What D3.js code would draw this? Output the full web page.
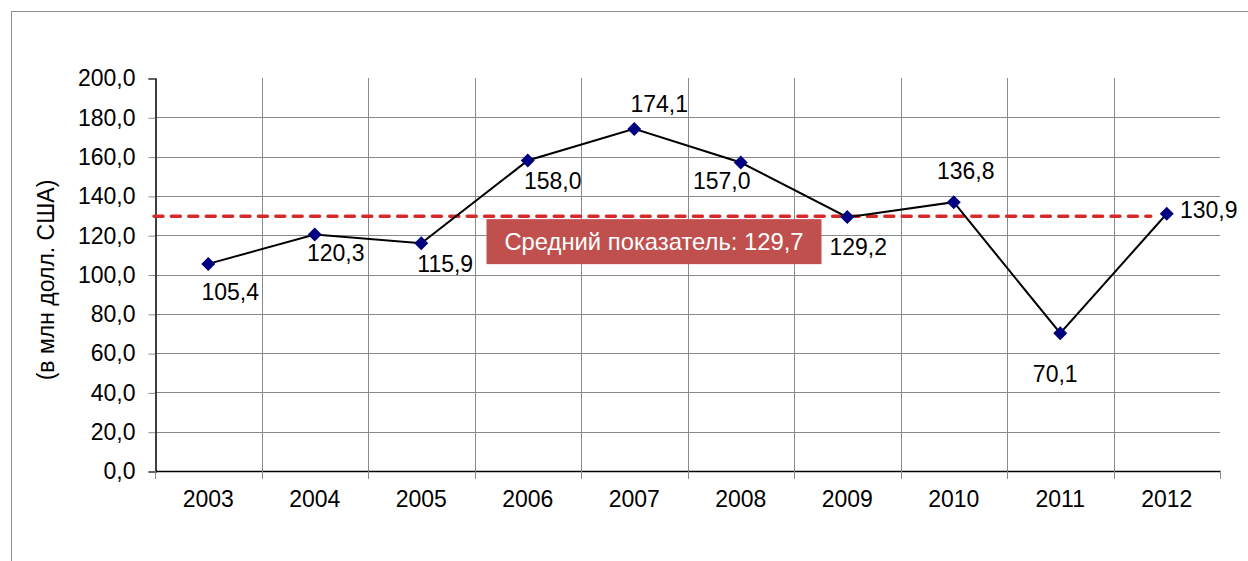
<!DOCTYPE html>
<html>
<head>
<meta charset="utf-8">
<script src="https://cdn.jsdelivr.net/npm/d3@7"></script>
<style>
  body { margin: 0; background: #fff; }
  svg { display: block; font-family: "Liberation Sans", Arial, sans-serif; }
</style>
</head>
<body>
<div id="chart"></div>
<script>
// data
const years = ["2003", "2004", "2005", "2006", "2007", "2008", "2009", "2010", "2011", "2012"];
const values = [105.4, 120.3, 115.9, 158.0, 174.1, 157.0, 129.2, 136.8, 70.1, 130.9];
const average = 129.7;
const yTicks = [0, 20, 40, 60, 80, 100, 120, 140, 160, 180, 200];

const yTitle = "(в млн долл. США)";
const avgText = "Средний показатель: ";

// where each value label sits relative to its point (dx = text centre, dy = baseline)
const labelPos = [[22, 36], [21, 26], [24, 29], [25, 28], [25, -17],
                  [-19, 27], [11, 38], [12, -23], [-5, 49], [42, 4]];

const width = 1248, height = 561;
const margin = {top: 78, right: 28, bottom: 90, left: 155};

const fmt = v => d3.format(".1f")(v).replace(".", ",");

const svg = d3.select("#chart")
    .append("svg")
    .attr("width", width)
    .attr("height", height);

// outer frame
svg.append("rect")
    .attr("x", 11.5).attr("y", 11.5)
    .attr("width", width).attr("height", height)
    .attr("fill", "none")
    .attr("stroke", "#8c8c8c")
    .attr("stroke-width", 1);

let xScale = d3.scaleBand()
    .domain(years)
    .range([margin.left, width - margin.right])
    .padding(0);

let yScale = d3.scaleLinear()
    .domain([0, 200])
    .range([height - margin.bottom, margin.top]);

const bw = xScale.bandwidth();
const x0 = margin.left, x1 = width - margin.right;
const yBottom = yScale(0), yTop = yScale(200);

// horizontal grid
svg.append("g")
    .selectAll("line")
    .data(yTicks.filter(t => t > 0 && t < 200))
    .enter()
    .append("line")
    .attr("x1", x0).attr("x2", x1)
    .attr("y1", d => Math.round(yScale(d)) + 0.5)
    .attr("y2", d => Math.round(yScale(d)) + 0.5)
    .attr("stroke", "#8a8a8a");

// vertical grid
svg.append("g")
    .selectAll("line")
    .data(years.slice(1))
    .enter()
    .append("line")
    .attr("x1", d => Math.round(xScale(d)) + 0.5)
    .attr("x2", d => Math.round(xScale(d)) + 0.5)
    .attr("y1", yTop).attr("y2", yBottom)
    .attr("stroke", "#8a8a8a");

// y axis
const yAxis = svg.append("g")
    .attr("transform", `translate(${x0 + 0.5}, 0.5)`)
    .call(d3.axisLeft(yScale)
        .tickValues(yTicks)
        .tickSize(7)
        .tickPadding(13)
        .tickFormat(fmt));
yAxis.select(".domain").attr("stroke", "#000").attr("stroke-width", 1.5);
yAxis.selectAll(".tick line").attr("stroke", "#8a8a8a");
yAxis.selectAll("text")
    .attr("font-size", "23px")
    .attr("font-family", "Liberation Sans, Arial, sans-serif")
    .attr("fill", "#000");

// x axis: ticks on band edges, labels in band centres
const xAxisG = svg.append("g");
xAxisG.append("line")
    .attr("x1", x0).attr("x2", x1 + 1)
    .attr("y1", yBottom + 0.5).attr("y2", yBottom + 0.5)
    .attr("stroke", "#000").attr("stroke-width", 1.5);
xAxisG.selectAll(".edge")
    .data(years.concat(["end"]))
    .enter()
    .append("line")
    .attr("class", "edge")
    .attr("x1", (d, i) => Math.round(x0 + i * bw) + 0.5)
    .attr("x2", (d, i) => Math.round(x0 + i * bw) + 0.5)
    .attr("y1", yBottom).attr("y2", yBottom + 8)
    .attr("stroke", "#8a8a8a");
xAxisG.selectAll("text")
    .data(years)
    .enter()
    .append("text")
    .attr("x", d => xScale(d) + bw / 2)
    .attr("y", yBottom + 36)
    .attr("text-anchor", "middle")
    .attr("font-size", "23px")
    .text(d => d);

// y title
svg.append("text")
    .attr("transform", "translate(54, 280) rotate(-90)")
    .attr("text-anchor", "middle")
    .attr("font-size", "23px")
    .text(yTitle);

// average line
const yAvg = yScale(average);
svg.append("line")
    .attr("x1", x0 - 1)
    .attr("x2", xScale("2012") + bw / 2 - 16)
    .attr("y1", yAvg).attr("y2", yAvg)
    .attr("stroke", "#d42a2a")
    .attr("stroke-width", 3.5)
    .attr("stroke-dasharray", "9,8.4")
    .attr("stroke-linecap", "round");

// average label box
const boxX = xScale("2006") + 12, boxY = yAvg + 3, boxW = 335;
svg.append("rect")
    .attr("x", boxX).attr("y", boxY)
    .attr("width", boxW).attr("height", 45)
    .attr("fill", "#c0504d");
svg.append("text")
    .attr("x", boxX + boxW / 2)
    .attr("y", boxY + 31)
    .attr("text-anchor", "middle")
    .attr("font-size", "23.8px")
    .attr("fill", "#fff")
    .text(avgText + fmt(average));

// series line
const line = d3.line()
    .x((d, i) => xScale(years[i]) + bw / 2)
    .y(d => yScale(d));

svg.append("path")
    .datum(values)
    .attr("d", line)
    .attr("fill", "none")
    .attr("stroke", "#000")
    .attr("stroke-width", 2);

// diamond markers
svg.selectAll(".dot")
    .data(values)
    .enter()
    .append("path")
    .attr("class", "dot")
    .attr("d", "M0,-7L7,0L0,7L-7,0Z")
    .attr("transform", (d, i) => `translate(${xScale(years[i]) + bw / 2}, ${yScale(d)})`)
    .attr("fill", "#000080");

// value labels
svg.selectAll(".val")
    .data(values)
    .enter()
    .append("text")
    .attr("class", "val")
    .attr("x", (d, i) => xScale(years[i]) + bw / 2 + labelPos[i][0])
    .attr("y", (d, i) => yScale(d) + labelPos[i][1])
    .attr("text-anchor", "middle")
    .attr("font-size", "23px")
    .text(d => fmt(d));
</script>
</body>
</html>
